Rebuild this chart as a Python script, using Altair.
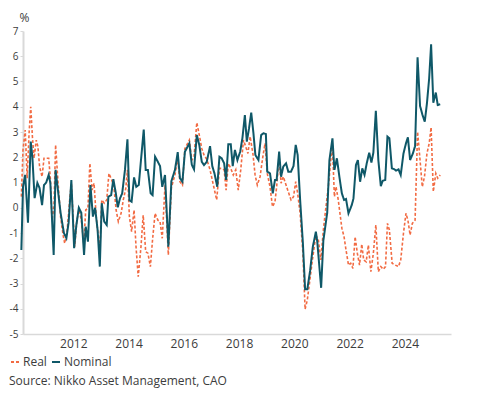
import altair as alt
import pandas as pd

# Nominal series: (decimal year, %)
nominal_t = [2010.12, 2010.18, 2010.26, 2010.36, 2010.46, 2010.52, 2010.60, 2010.70, 2010.78, 2010.87,
             2010.94, 2011.02, 2011.11, 2011.17, 2011.29, 2011.36, 2011.45, 2011.54, 2011.66, 2011.75,
             2011.83, 2011.93, 2012.03, 2012.11, 2012.20, 2012.29, 2012.39, 2012.45, 2012.53, 2012.62,
             2012.71, 2012.79, 2012.88, 2012.96, 2013.03, 2013.12, 2013.21, 2013.27, 2013.37, 2013.45,
             2013.54, 2013.61, 2013.69, 2013.77, 2013.87, 2013.96, 2014.03, 2014.11, 2014.20, 2014.28,
             2014.37, 2014.45, 2014.55, 2014.62, 2014.70, 2014.80, 2014.87, 2014.96, 2015.06, 2015.14,
             2015.22, 2015.32, 2015.44, 2015.55, 2015.68, 2015.78, 2015.86, 2015.95, 2016.04, 2016.20,
             2016.29, 2016.37, 2016.47, 2016.56, 2016.65, 2016.73, 2016.83, 2016.95, 2017.03, 2017.11,
             2017.21, 2017.29, 2017.37, 2017.46, 2017.53, 2017.61, 2017.70, 2017.77, 2017.85, 2017.94,
             2018.04, 2018.12, 2018.21, 2018.28, 2018.36, 2018.44, 2018.52, 2018.59, 2018.70, 2018.80,
             2018.88, 2018.97, 2019.02, 2019.12, 2019.22, 2019.30, 2019.36, 2019.45, 2019.52, 2019.60,
             2019.70, 2019.78, 2019.88, 2019.97, 2020.05, 2020.12, 2020.21, 2020.31, 2020.39, 2020.47,
             2020.57, 2020.67, 2020.78, 2020.83, 2020.97, 2021.05, 2021.19, 2021.27, 2021.38, 2021.45,
             2021.54, 2021.63, 2021.72, 2021.80, 2021.87, 2021.96, 2022.08, 2022.14, 2022.23, 2022.30,
             2022.38, 2022.46, 2022.54, 2022.62, 2022.71, 2022.79, 2022.86, 2022.95, 2023.04, 2023.13,
             2023.20, 2023.29, 2023.37, 2023.44, 2023.53, 2023.61, 2023.68, 2023.77, 2023.85, 2023.95,
             2024.04, 2024.11, 2024.19, 2024.29, 2024.37, 2024.46, 2024.55, 2024.64, 2024.72, 2024.80,
             2024.88, 2024.95, 2025.03, 2025.12, 2025.19, 2025.28]
nominal_v = [-1.67, 0.83, 1.30, -0.59, 2.62, 2.00, 0.38, 0.98, 0.78, 0.10,
             0.90, 1.00, 1.30, 0.98, -1.87, 1.50, 0.64, -0.20, -1.00, -1.20,
             -0.60, 1.10, -1.60, -0.70, 0.00, -0.20, -1.87, -0.75, -1.34, 0.90,
             -0.35, 0.00, -0.88, -2.33, 0.18, -0.55, -0.68, 0.44, 0.50, 1.13,
             0.57, 0.02, 0.37, 0.57, 1.50, 2.71, 0.30, 0.24, 1.20, 0.83,
             0.90, 1.89, 3.10, 1.50, 1.50, 0.57, 0.50, 2.02, 1.82, 1.65,
             0.83, 1.30, -1.54, 1.05, 1.50, 2.20, 1.17, 1.03, 2.22, 2.55,
             1.70, 1.52, 2.88, 2.49, 1.82, 1.69, 1.82, 2.44, 1.65, 1.36,
             0.83, 2.02, 1.96, 1.76, 1.10, 2.51, 2.51, 1.65, 2.29, 1.89,
             2.22, 2.75, 3.67, 2.62, 3.14, 3.77, 2.95, 2.09, 1.89, 2.88,
             2.95, 2.92, 1.43, 1.36, 0.57, 1.10, 1.10, 2.22, 1.23, 1.63,
             1.76, 1.43, 1.43, 1.65, 2.49, 2.09, 0.31, -1.41, -3.23, -3.23,
             -2.50, -1.54, -0.95, -1.34, -3.17, -1.30, -0.20, 1.89, 2.75, 1.50,
             1.96, 1.23, 0.57, 0.31, 0.35, -0.22, 0.11, 0.37, 1.69, 1.89,
             1.03, 1.56, 1.30, 1.76, 2.18, 1.79, 2.18, 3.84, 1.89, 0.86,
             1.07, 1.10, 2.82, 2.75, 1.56, 1.53, 1.47, 1.52, 1.30, 2.15,
             2.55, 2.79, 1.89, 2.15, 2.44, 5.96, 4.03, 3.67, 3.41, 4.14,
             5.13, 6.47, 4.16, 4.56, 4.07, 4.10]

# Real series: (decimal year, %)
real_t = [2010.12, 2010.18, 2010.26, 2010.33, 2010.40, 2010.46, 2010.52, 2010.58, 2010.66, 2010.72,
          2010.78, 2010.87, 2010.94, 2011.02, 2011.11, 2011.17, 2011.23, 2011.30, 2011.36, 2011.45,
          2011.54, 2011.63, 2011.69, 2011.78, 2011.87, 2011.93, 2012.05, 2012.13, 2012.21, 2012.29,
          2012.38, 2012.45, 2012.53, 2012.60, 2012.68, 2012.75, 2012.83, 2012.96, 2013.03, 2013.12,
          2013.21, 2013.29, 2013.39, 2013.47, 2013.55, 2013.63, 2013.73, 2013.81, 2013.90, 2013.96,
          2014.03, 2014.11, 2014.20, 2014.27, 2014.35, 2014.45, 2014.53, 2014.62, 2014.70, 2014.79,
          2014.87, 2014.96, 2015.06, 2015.14, 2015.22, 2015.32, 2015.44, 2015.55, 2015.68, 2015.78,
          2015.86, 2015.95, 2016.04, 2016.20, 2016.29, 2016.37, 2016.47, 2016.56, 2016.65, 2016.73,
          2016.83, 2016.95, 2017.03, 2017.11, 2017.19, 2017.29, 2017.37, 2017.46, 2017.53, 2017.61,
          2017.70, 2017.79, 2017.88, 2017.97, 2018.06, 2018.16, 2018.24, 2018.32, 2018.40, 2018.50,
          2018.58, 2018.66, 2018.76, 2018.86, 2018.94, 2019.02, 2019.12, 2019.21, 2019.30, 2019.36,
          2019.45, 2019.52, 2019.60, 2019.70, 2019.80, 2019.88, 2019.97, 2020.05, 2020.12, 2020.21,
          2020.31, 2020.39, 2020.47, 2020.57, 2020.67, 2020.78, 2020.87, 2020.96, 2021.05, 2021.11,
          2021.23, 2021.32, 2021.38, 2021.45, 2021.51, 2021.59, 2021.72, 2021.80, 2021.87, 2021.96,
          2022.04, 2022.12, 2022.20, 2022.28, 2022.36, 2022.44, 2022.51, 2022.60, 2022.68, 2022.77,
          2022.86, 2022.95, 2023.04, 2023.13, 2023.22, 2023.30, 2023.37, 2023.44, 2023.54, 2023.65,
          2023.77, 2023.85, 2023.95, 2024.04, 2024.11, 2024.19, 2024.27, 2024.37, 2024.46, 2024.54,
          2024.63, 2024.71, 2024.80, 2024.88, 2024.95, 2025.03, 2025.12, 2025.19, 2025.28]
real_v = [0.44, 2.29, 3.08, 1.17, 2.95, 4.00, 2.82, 1.96, 2.68, 2.42,
          1.63, 1.23, 1.96, 1.96, 1.96, 1.17, -0.49, 0.04, 2.49, 0.97,
          -0.35, -1.08, -1.41, -0.88, 0.31, 0.97, -1.54, -0.49, -0.09, -0.49,
          -1.41, -0.09, -0.02, 1.76, 0.70, 0.97, -0.35, -1.74, 0.31, 0.18,
          0.31, 1.36, 1.10, 0.83, -0.09, -0.55, -0.22, 0.31, 0.77, 1.50,
          -0.35, -0.95, -0.09, -1.54, -2.73, -1.54, -0.29, -1.74, -1.80, -2.33,
          -1.25, -0.22, -0.49, -0.55, -1.21, 0.90, -1.87, 0.80, 1.30, 1.96,
          1.03, 0.90, 2.35, 2.68, 1.89, 2.02, 3.37, 2.88, 2.35, 2.09,
          1.92, 1.50, 1.10, 0.70, 0.31, 1.56, 1.56, 1.50, 0.70, 1.76,
          1.56, 1.30, 1.50, 0.70, 1.50, 2.68, 2.42, 2.15, 2.82, 2.15,
          1.30, 0.90, 1.23, 2.02, 2.55, 1.36, 0.83, 0.04, 0.24, 0.83,
          2.02, 0.97, 1.23, 0.90, 0.57, 0.31, 0.44, 1.03, 0.57, -0.22,
          -1.80, -4.02, -3.65, -2.80, -1.94, -1.08, -1.28, -2.07, -0.88, -0.29,
          0.83, 1.89, 2.42, 0.44, 0.83, 0.31, -0.81, -1.15, -1.67, -2.27,
          -2.20, -2.40, -1.15, -1.80, -2.27, -1.44, -2.07, -2.14, -1.48, -2.53,
          -1.80, -0.68, -2.53, -2.33, -2.44, -2.33, -0.62, -0.88, -2.20, -2.27,
          -2.33, -2.07, -1.01, -0.22, -0.49, -1.08, -0.62, -0.49, 3.01, 2.02,
          0.83, 1.23, 2.15, 2.55, 3.18, 0.64, 1.36, 1.17, 1.30]

series_names = ["Real", "Nominal"]
series_colors = ["#f26b43", "#0f5868"]
series_dashes = [[3, 2], [1, 0]]
x_ticks = [2012, 2014, 2016, 2018, 2020, 2022, 2024]
y_ticks = list(range(-5, 8))
source_text = "Source: Nikko Asset Management, CAO"

real_df = pd.DataFrame({"t": real_t, "v": real_v, "series": "Real"})
nom_df = pd.DataFrame({"t": nominal_t, "v": nominal_v, "series": "Nominal"})

FONT = "Open Sans"
PAD_L = 15
W, H = 428, 303

x_enc = alt.X("t:Q", scale=alt.Scale(domain=[2010.18, 2025.67], nice=False, zero=False),
              axis=alt.Axis(values=x_ticks, format="d", title=None, grid=False, ticks=False,
                            domainColor="#d9d9d9", domainWidth=1.5, labelFontSize=12,
                            labelPadding=4, labelColor="#3c3c3c", labelFont=FONT))
y_enc = alt.Y("v:Q", scale=alt.Scale(domain=[-5, 7], nice=False, zero=False),
              axis=alt.Axis(values=y_ticks, title="%", titleAngle=0, titleX=1, titleY=-14,
                            titleAlign="center", titleBaseline="middle", titleFontWeight="normal",
                            titleFontSize=12, titleColor="#3c3c3c", titleFont=FONT,
                            grid=False, ticks=True, tickSize=3, tickColor="#d9d9d9",
                            domainColor="#d9d9d9", domainWidth=2, labelFontSize=10,
                            labelPadding=2, labelColor="#3c3c3c", labelFont=FONT,
                            labelExpr="datum.value + ''"))
legend_kw = dict(title=None, orient="none", legendX=-PAD_L + 1, legendY=325,
                 direction="horizontal", symbolType="stroke",
                 symbolSize=64, symbolStrokeWidth=2, labelFontSize=12,
                 labelFont=FONT, labelColor="#3c3c3c", labelOffset=2, columnPadding=1)
color_enc = alt.Color("series:N", scale=alt.Scale(domain=series_names, range=series_colors),
                      legend=alt.Legend(**legend_kw))
dash_enc = alt.StrokeDash("series:N", scale=alt.Scale(domain=series_names, range=series_dashes),
                          legend=alt.Legend(**legend_kw))

real_line = alt.Chart(real_df).mark_line(strokeWidth=1.6).encode(
    x=x_enc, y=y_enc, color=color_enc, strokeDash=dash_enc)
nom_line = alt.Chart(nom_df).mark_line(strokeWidth=2).encode(
    x=x_enc, y=y_enc, color=color_enc, strokeDash=dash_enc)

source = alt.Chart(pd.DataFrame({"s": [source_text]})).mark_text(
    align="left", baseline="middle", fontSize=12, font=FONT, color="#3c3c3c"
).encode(text="s:N", x=alt.value(-PAD_L + 1), y=alt.value(350))

chart = alt.layer(real_line, nom_line, source).properties(
    width=W, height=H,
    autosize=alt.AutoSizeParams(type="none"),
    padding={"left": PAD_L, "top": 23, "right": 18, "bottom": 56},
).configure_view(stroke=None)

chart.save("out.html", embed_options={"renderer": "svg", "actions": False})
